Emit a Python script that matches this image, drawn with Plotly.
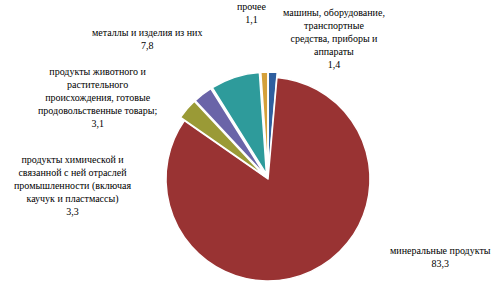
import plotly.graph_objects as go

categories = [
    "машины, оборудование,<br>транспортные<br>средства, приборы и<br>аппараты",
    "минеральные продукты",
    "продукты химической и<br>связанной с ней отраслей<br>промышленности (включая<br>каучук и пластмассы)",
    "продукты животного и<br>растительного<br>происхождения, готовые<br>продовольственные товары;",
    "металлы и изделия из них",
    "прочее",
]
values = [1.4, 83.3, 3.3, 3.1, 7.8, 1.1]
value_labels = ["1,4", "83,3", "3,3", "3,1", "7,8", "1,1"]
colors = ["#2F5F9F", "#993333", "#9A9A36", "#6A64A8", "#2E9B9B", "#D4A03A"]
pulls = [0.05, 0.0, 0.05, 0.05, 0.05, 0.05]

# label centres in pixels (x, y)
label_pos = [(334, 39), (440, 257), (72, 185), (97, 97), (147, 39), (252, 13)]

W, H = 500, 288
cx, cy, r = 268, 179, 102
rr = r * (1 + max(pulls))

fig = go.Figure(go.Pie(
    labels=[c.replace("<br>", " ") for c in categories],
    values=values,
    sort=False,
    direction="clockwise",
    rotation=0,
    pull=pulls,
    marker=dict(colors=colors, line=dict(color="white", width=1.5)),
    textinfo="none",
    hoverinfo="label+value",
    showlegend=False,
    domain=dict(x=[(cx - rr) / W, (cx + rr) / W], y=[1 - (cy + rr) / H, 1 - (cy - rr) / H]),
))

for cat, vl, (px, py) in zip(categories, value_labels, label_pos):
    fig.add_annotation(
        x=px / W, y=1 - py / H, xref="paper", yref="paper",
        text=cat + "<br>" + vl, showarrow=False,
        xanchor="center", yanchor="middle", align="center",
        font=dict(family="serif", size=10, color="#000000"),
    )

fig.update_layout(
    width=W, height=H,
    margin=dict(l=0, r=0, t=0, b=0),
    font=dict(family="serif"),
    paper_bgcolor="white", plot_bgcolor="white",
)
fig.write_html("out.html")
